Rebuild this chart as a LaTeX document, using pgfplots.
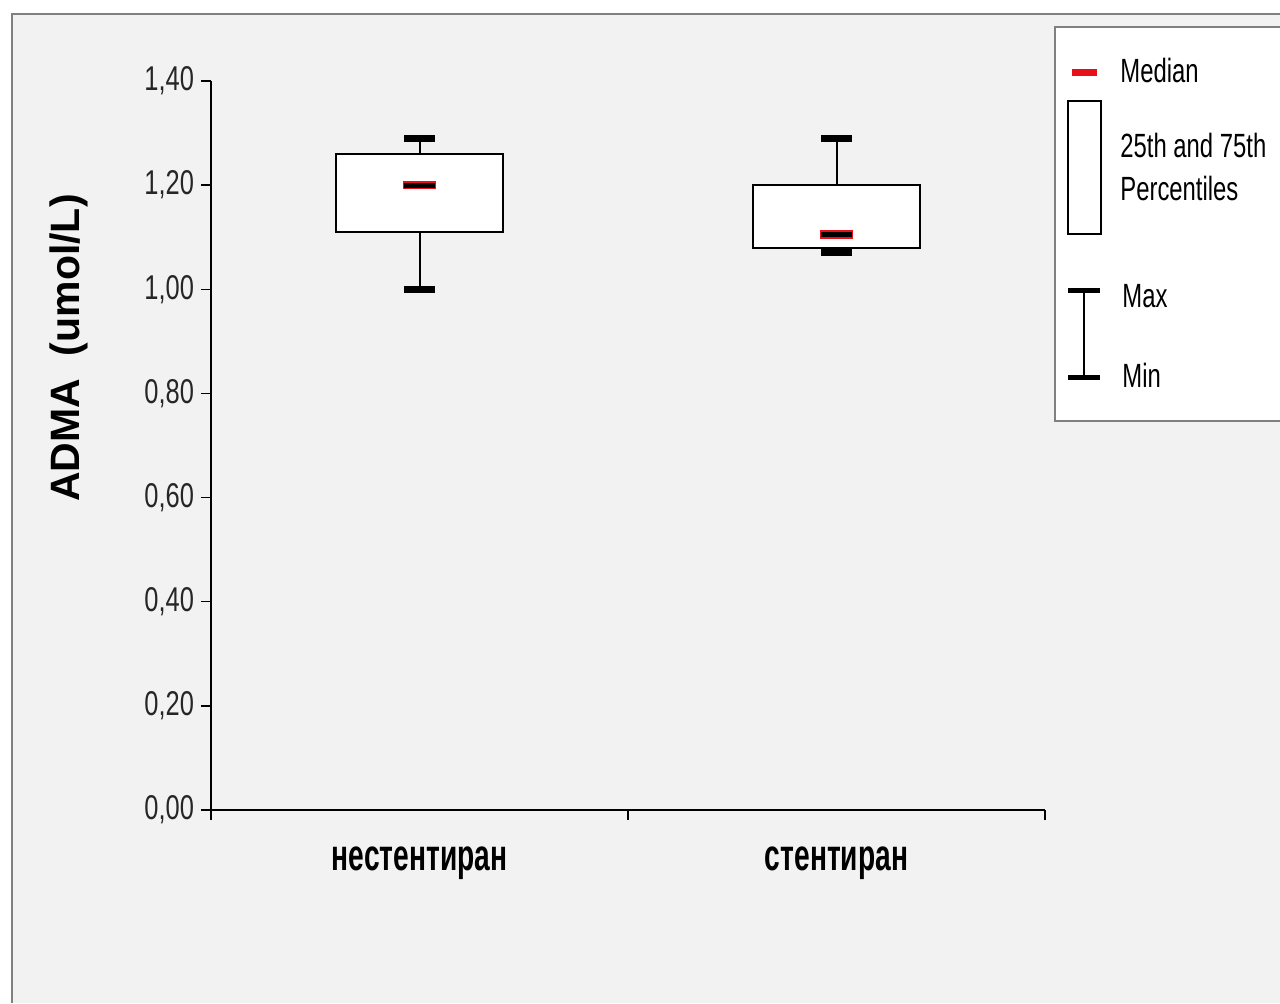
\documentclass[border=0pt]{standalone}
\usepackage{pgfplots}
\pgfplotsset{compat=1.18}
\usepackage{fontspec}
\setmainfont{Liberation Sans}
\newfontfamily\tickfam[FakeStretch=0.74]{Liberation Sans}
\newfontfamily\catfam[FakeStretch=0.64]{Liberation Sans}
\newfontfamily\legfam[FakeStretch=0.71]{Liberation Sans}
\definecolor{bg}{HTML}{F2F2F2}
\definecolor{framegray}{HTML}{808080}
\definecolor{medred}{HTML}{E8101A}
\begin{document}
\begin{tikzpicture}
\begin{scope}[x=0.5pt,y=-0.5pt]
\useasboundingbox (0,0) rectangle (1280,1003);
\fill[white] (0,0) rectangle (1280,1003);
\fill[bg] (12,14) rectangle (1280,1003);
\draw[framegray, line width=1pt] (12,1003) -- (12,14) -- (1280,14);
% legend
\draw[framegray, fill=white, line width=0.9pt] (1055,27) rectangle (1300,421);
\draw[medred, line width=3.5pt] (1072,72) -- (1097,72);
\draw[black, fill=white, line width=1pt] (1068,101) rectangle (1101,234);
\draw[black, line width=1pt] (1084,290) -- (1084,377);
\draw[black, line width=2.5pt] (1068,290) -- (1100,290);
\draw[black, line width=2.5pt] (1068,377) -- (1100,377);
\begin{scope}[every node/.style={anchor=base west, inner sep=0, font=\legfam\fontsize{16.8}{20}\selectfont}]
\node at (1120,82) {Median};
\node at (1120,157) {25th and 75th};
\node at (1120,200) {Percentiles};
\node at (1122,307) {Max};
\node at (1122,387) {Min};
\end{scope}
\node[rotate=90, inner sep=0, font=\bfseries\fontsize{20.5}{24}\selectfont] at (69,348) {ADMA\ \ (umol/L)};
\end{scope}
\begin{axis}[
  at={(105.5pt,-405pt)}, anchor=south west,
  scale only axis, width=417pt, height=364.5pt,
  xmin=0, xmax=2, ymin=0, ymax=1.4,
  axis x line*=bottom, axis y line*=left,
  axis line style={line width=1pt, -},
  xtick={0,1,2}, xticklabels={},
  ytick={0,0.2,0.4,0.6,0.8,1.0,1.2,1.4},
  tick align=outside, major tick length=5pt,
  tick style={black, line width=0.75pt},
  xtick pos=bottom, ytick pos=left,
  yticklabel style={font=\tickfam\fontsize{17.2}{20}\selectfont, text=black!85},
  clip=false,
  yticklabel style={/pgf/number format/.cd, fixed, fixed zerofill, precision=2, use comma, assume math mode=true},
]
% whiskers
\addplot[black, line width=1pt] coordinates {(0.5,1.00) (0.5,1.29)};
\addplot[black, line width=1pt] coordinates {(1.5,1.07) (1.5,1.29)};
% boxes (25th-75th percentiles)
\addplot[fill=white, draw=black, line width=1pt] coordinates {(0.3,1.11) (0.7,1.11) (0.7,1.26) (0.3,1.26)} -- cycle;
\addplot[fill=white, draw=black, line width=1pt] coordinates {(1.3,1.08) (1.7,1.08) (1.7,1.20) (1.3,1.20)} -- cycle;
% max/min caps
\addplot[black, line width=3.5pt] coordinates {(0.463,1.29) (0.537,1.29)};
\addplot[black, line width=3.5pt] coordinates {(0.463,1.00) (0.537,1.00)};
\addplot[black, line width=3.5pt] coordinates {(1.463,1.29) (1.537,1.29)};
\addplot[black, line width=3.5pt] coordinates {(1.463,1.07) (1.537,1.07)};
% medians
\addplot[medred, line width=4.2pt] coordinates {(0.461,1.20) (0.539,1.20)};
\addplot[black, line width=2.6pt] coordinates {(0.464,1.20) (0.536,1.20)};
\addplot[medred, line width=4.2pt] coordinates {(1.461,1.105) (1.539,1.105)};
\addplot[black, line width=2.6pt] coordinates {(1.464,1.105) (1.536,1.105)};
% category labels
\node[anchor=base, inner sep=0, font=\catfam\bfseries\fontsize{22}{26}\selectfont] at ([yshift=-30pt]axis cs:0.5,0) {нестентиран};
\node[anchor=base, inner sep=0, font=\catfam\bfseries\fontsize{22}{26}\selectfont] at ([yshift=-30pt]axis cs:1.5,0) {стентиран};
\end{axis}
\end{tikzpicture}
\end{document}
